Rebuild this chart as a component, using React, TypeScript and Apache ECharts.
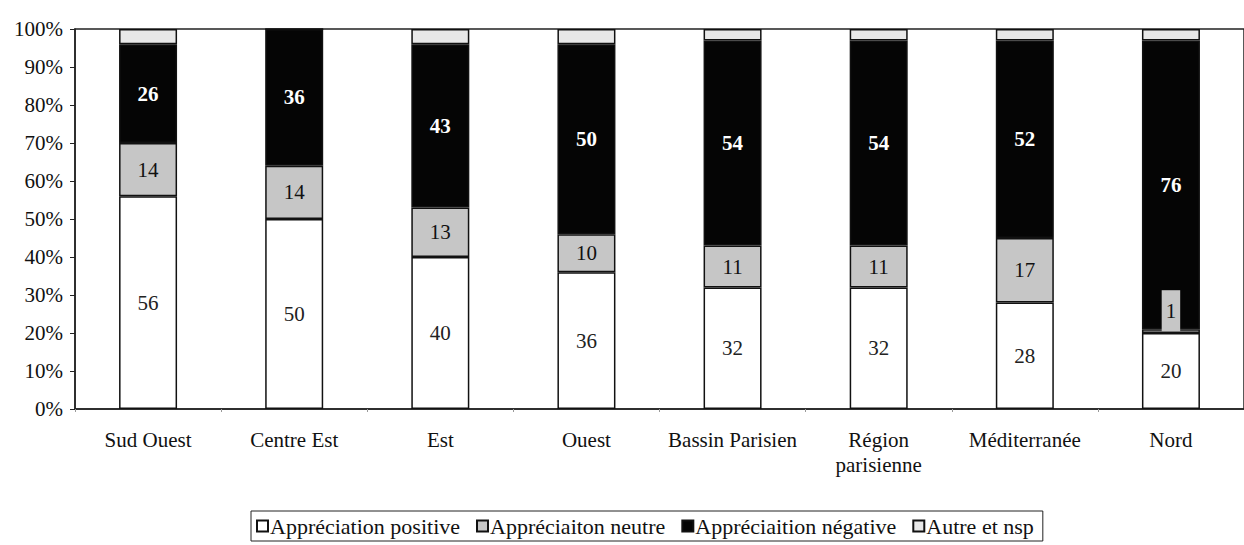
import React, { useEffect, useRef } from "react";
import * as echarts from "echarts";

const categories = [
  "Sud Ouest",
  "Centre Est",
  "Est",
  "Ouest",
  "Bassin Parisien",
  "Région\nparisienne",
  "Méditerranée",
  "Nord",
];
const positive = [56, 50, 40, 36, 32, 32, 28, 20];
const neutral = [14, 14, 13, 10, 11, 11, 17, 1];
const negative = [26, 36, 43, 50, 54, 54, 52, 76];
const other = [4, 0, 4, 4, 3, 3, 3, 3];
const seriesNames = [
  "Appréciation positive",
  "Appréciaiton neutre",
  "Appréciaition négative",
  "Autre et nsp",
];

const FONT = "'Liberation Serif', 'Times New Roman', serif";
const NEUTRAL_COLOR = "#c6c6c6";

export default function App() {
  const ref = useRef<HTMLDivElement>(null);
  useEffect(() => {
    if (!ref.current) return;
    const chart = echarts.init(ref.current, null, { renderer: "svg" });
    const mk = (
      name: string,
      data: any[],
      color: string,
      labelColor: string | null,
      bold: boolean
    ) => ({
      name,
      type: "bar",
      stack: "total",
      barWidth: 58,
      data,
      itemStyle: { color, borderColor: "#111", borderWidth: 1.5 },
      label: labelColor
        ? {
            show: true,
            position: "inside",
            color: labelColor,
            fontFamily: FONT,
            fontSize: 21,
            fontWeight: bold ? "bold" : "normal",
          }
        : { show: false },
    });
    // small neutral values get their label drawn in a grey box above the segment
    const neutralData = neutral.map((v) =>
      v < 3
        ? {
            value: v,
            label: {
              position: "top",
              distance: -2,
              backgroundColor: NEUTRAL_COLOR,
              padding: [10, 4, 10, 4],
              color: "#111",
            },
          }
        : v
    );
    chart.setOption({
      animation: false,
      backgroundColor: "#ffffff",
      textStyle: { fontFamily: FONT },
      grid: {
        left: 75,
        top: 29,
        width: 1177,
        height: 380,
        show: true,
        borderColor: "#222",
        borderWidth: 1.5,
        backgroundColor: "transparent",
      },
      legend: {
        left: 251,
        top: 511,
        padding: [4, 9, 4, 5],
        borderColor: "#222",
        borderWidth: 1,
        itemGap: 16,
        itemWidth: 11,
        itemHeight: 11,
        icon: "rect",
        textStyle: { fontFamily: FONT, fontSize: 22, color: "#111", padding: [0, 0, 0, -3] },
        data: seriesNames,
      },
      xAxis: {
        type: "category",
        data: categories,
        axisLine: { lineStyle: { color: "#222", width: 1.5 } },
        axisTick: { show: true, length: 3, lineStyle: { color: "#999" } },
        axisLabel: {
          interval: 0,
          margin: 18,
          fontFamily: FONT,
          fontSize: 21,
          color: "#111",
          lineHeight: 25,
        },
      },
      yAxis: {
        type: "value",
        min: 0,
        max: 100,
        interval: 10,
        axisLine: { show: true, lineStyle: { color: "#222", width: 1.5 } },
        axisTick: { show: true, length: 5, lineStyle: { color: "#222" } },
        splitLine: { show: false },
        axisLabel: {
          formatter: "{value}%",
          margin: 12,
          fontFamily: FONT,
          fontSize: 21,
          color: "#111",
        },
      },
      series: [
        mk(seriesNames[0], positive, "#ffffff", "#222", false),
        mk(seriesNames[1], neutralData, NEUTRAL_COLOR, "#111", false),
        mk(seriesNames[2], negative, "#050505", "#ffffff", true),
        mk(seriesNames[3], other, "#e8e8e8", null, false),
      ],
    });
    return () => chart.dispose();
  }, []);
  return (
    <div
      ref={ref}
      style={{ position: "absolute", left: 0, top: 0, width: 1244, height: 545 }}
    />
  );
}
